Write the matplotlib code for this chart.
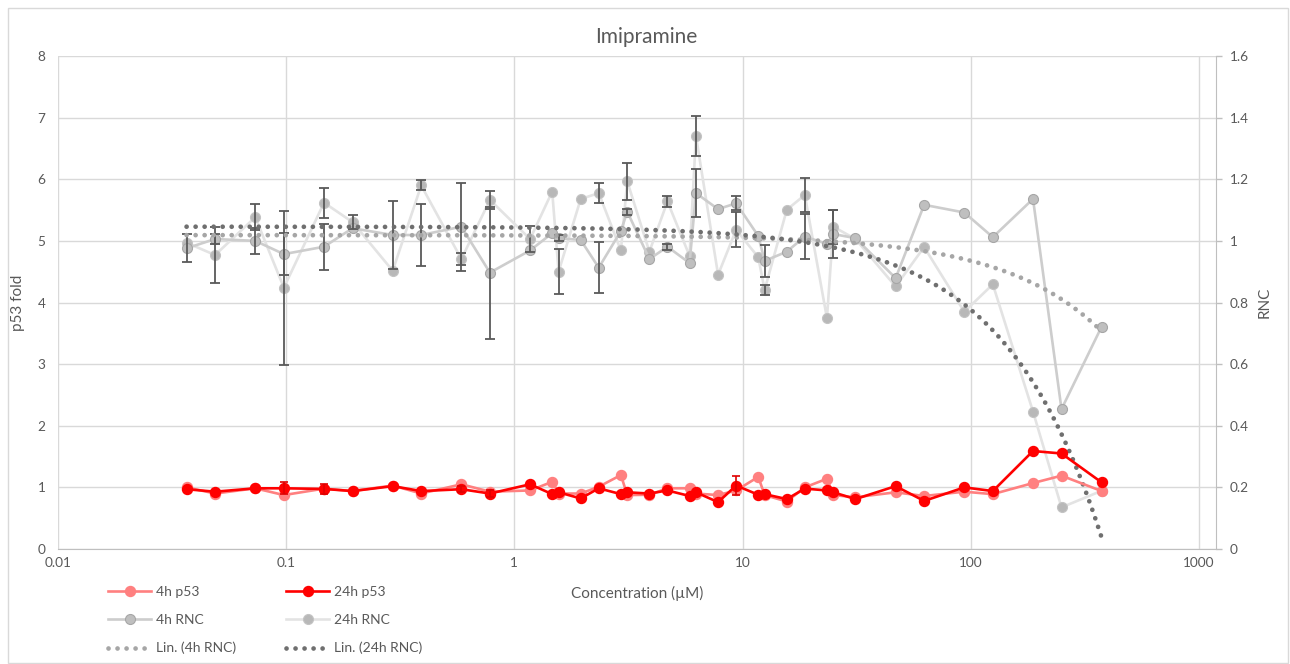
import numpy as np
import matplotlib
matplotlib.use("Agg")
import matplotlib.pyplot as plt
from matplotlib.ticker import NullLocator
from matplotlib.patches import Rectangle

# Concentrations (µM) - four interleaved two-fold dilution series
conc = [0.0366, 0.0488, 0.0732, 0.0977, 0.1465, 0.1953, 0.293, 0.3906, 0.586, 0.7813,
        1.172, 1.465, 1.563, 1.953, 2.344, 2.93, 3.125, 3.906, 4.688, 5.86,
        6.25, 7.813, 9.375, 11.72, 12.5, 15.63, 18.75, 23.44, 25.0, 31.25,
        46.88, 62.5, 93.75, 125.0, 187.5, 250.0, 375.0]

p53_4h = [1.00, 0.90, 0.985, 0.875, 0.98, 0.94, 1.03, 0.90, 1.05, 0.93,
          0.95, 1.09, 0.90, 0.90, 1.01, 1.20, 0.875, 0.88, 0.985, 0.985,
          0.90, 0.875, 0.95, 1.17, 0.875, 0.77, 1.00, 1.14, 0.875, 0.84,
          0.92, 0.86, 0.93, 0.89, 1.07, 1.19, 0.94]

p53_24h = [0.97, 0.93, 0.985, 0.985, 0.975, 0.94, 1.02, 0.94, 0.97, 0.90,
           1.05, 0.89, 0.92, 0.82, 0.985, 0.89, 0.92, 0.90, 0.95, 0.86,
           0.92, 0.76, 1.03, 0.88, 0.89, 0.81, 0.98, 0.95, 0.92, 0.81,
           1.02, 0.78, 1.00, 0.94, 1.59, 1.55, 1.08]

nan = np.nan
p53_24h_err = [nan, nan, nan, 0.10, 0.08, nan, nan, nan, 0.05, 0.05,
               nan, nan, nan, nan, nan, nan, nan, nan, nan, nan,
               nan, nan, 0.15, nan, nan, nan, nan, nan, nan, nan,
               nan, nan, nan, nan, nan, nan, nan]

rnc_4h = [0.976, 1.006, 1.000, 0.957, 0.981, 1.041, 1.019, 1.019, 1.046, 0.897,
          0.969, 1.025, 1.009, 1.003, 0.913, 1.032, 1.095, 0.941, 0.981, 0.928,
          1.155, 1.103, 1.122, 1.016, 0.935, 0.965, 1.014, 0.990, 1.022, 1.009,
          0.879, 1.117, 1.092, 1.012, 1.136, 0.454, 0.722]

rnc_24h = [0.994, 0.954, 1.077, 0.848, 1.124, 1.061, 0.903, 1.180, 0.941, 1.133,
           1.006, 1.160, 0.900, 1.136, 1.155, 0.969, 1.193, 0.965, 1.128, 0.951,
           1.341, 0.890, 1.036, 0.947, 0.841, 1.101, 1.149, 0.749, 1.046, 1.006,
           0.852, 0.980, 0.770, 0.859, 0.446, 0.135, 0.189]

rnc_4h_err = [0.045, 0.016, 0.041, 0.068, 0.075, nan, 0.110, 0.100, 0.143, 0.214,
              nan, nan, 0.010, nan, 0.083, nan, 0.010, nan, 0.010, nan,
              0.078, nan, 0.023, nan, 0.052, nan, 0.073, nan, 0.078, nan,
              nan, nan, nan, nan, nan, nan, nan]

rnc_24h_err = [nan, 0.091, 0.042, 0.250, 0.049, 0.023, nan, 0.016, 0.019, 0.029,
               0.042, nan, 0.073, nan, 0.032, nan, 0.060, nan, 0.019, nan,
               0.065, nan, 0.057, nan, 0.016, nan, 0.054, nan, 0.055, nan,
               nan, nan, nan, nan, nan, nan, nan]

x_ticks = [0.01, 0.1, 1, 10, 100, 1000]
x_tick_labels = ["0.01", "0.1", "1", "10", "100", "1000"]
p53_ticks = [0, 1, 2, 3, 4, 5, 6, 7, 8]
rnc_ticks = [0, 0.2, 0.4, 0.6, 0.8, 1, 1.2, 1.4, 1.6]
rnc_tick_labels = ["0", "0.2", "0.4", "0.6", "0.8", "1", "1.2", "1.4", "1.6"]

TEXT = "#595959"
GRID = "#d9d9d9"
AXIS = "#bfbfbf"
plt.rcParams['font.family'] = ['Lato', 'DejaVu Sans']

W, H = 1290, 664
fig = plt.figure(figsize=(W / 100, H / 100), dpi=100)
fig.patches.append(Rectangle((8 / W, 1 / H), 1280 / W, 655 / H, transform=fig.transFigure,
                             fill=False, edgecolor=GRID, linewidth=1.0))

left, right, bottom, top = 58 / W, 1216 / W, 1 - 549 / H, 1 - 56 / H
ax = fig.add_axes([left, bottom, right - left, top - bottom])
axr = ax.twinx()
ax.set_zorder(2)
axr.set_zorder(1)
ax.patch.set_visible(False)

conc_a = np.array(conc)
xmax = 10 ** 3.075
for a in (ax, axr):
    a.set_xscale('log')
    a.set_xlim(0.01, xmax)
    a.xaxis.set_minor_locator(NullLocator())

ax.set_ylim(0, 8)
axr.set_ylim(0, 1.6)

# grid lives on the lower (RNC) axes so data sits above it
axr.xaxis.set_visible(True)
axr.set_xticks(x_ticks)
axr.xaxis.set_minor_locator(NullLocator())
axr.tick_params(axis='x', which='both', bottom=False, top=False, labelbottom=False, labeltop=False)
axr.grid(True, axis='both', color=GRID, linewidth=1.0)
axr.set_axisbelow(True)

# RNC series (secondary axis)
axr.plot(conc_a, rnc_24h, color="#e3e3e3", lw=1.9, marker='o', ms=7.2,
         mfc="#b8b8b8", mec="#c4c4c4", mew=0.8, label="24h RNC", zorder=2)
axr.plot(conc_a, rnc_4h, color="#cdcdcd", lw=1.9, marker='o', ms=7.2,
         mfc="#bfbfbf", mec="#a6a6a6", mew=0.8, label="4h RNC", zorder=3)
axr.errorbar(conc_a, rnc_4h, yerr=rnc_4h_err, fmt='none', ecolor="#595959",
             elinewidth=1.3, capsize=3.5, capthick=1.3, zorder=4)
axr.errorbar(conc_a, rnc_24h, yerr=rnc_24h_err, fmt='none', ecolor="#595959",
             elinewidth=1.3, capsize=3.5, capthick=1.3, zorder=4)

# linear trendlines of the RNC data
xs = np.logspace(np.log10(conc_a.min()), np.log10(conc_a.max()), 400)
b4, a4 = np.polyfit(conc_a, rnc_4h, 1)
b24, a24 = np.polyfit(conc_a, rnc_24h, 1)
dots = (0, (0.01, 1.9))
tl4, = axr.plot(xs, a4 + b4 * xs, color="#a6a6a6", lw=3.4, linestyle=dots,
                dash_capstyle='round', label="Lin. (4h RNC)", zorder=5)
tl24, = axr.plot(xs, a24 + b24 * xs, color="#6f6f6f", lw=3.4, linestyle=dots,
                 dash_capstyle='round', label="Lin. (24h RNC)", zorder=5)

# p53 series (primary axis)
l4, = ax.plot(conc_a, p53_4h, color="#ff8080", lw=1.9, marker='o', ms=7.2,
              mfc="#ff8080", mec="#ff8080", label="4h p53", zorder=3)
l24, = ax.plot(conc_a, p53_24h, color="#ff0000", lw=1.9, marker='o', ms=7.2,
               mfc="#ff0000", mec="#ff0000", label="24h p53", zorder=4)
ax.errorbar(conc_a, p53_24h, yerr=p53_24h_err, fmt='none', ecolor="#e00000",
            elinewidth=1.2, capsize=3.2, capthick=1.2, zorder=4)

# axes styling
ax.set_xticks(x_ticks)
ax.set_xticklabels(x_tick_labels)
ax.xaxis.set_minor_locator(NullLocator())
ax.set_yticks(p53_ticks)
axr.set_yticks(rnc_ticks)
axr.set_yticklabels(rnc_tick_labels)
ax.tick_params(axis='x', length=0, pad=6, labelsize=9.8, labelcolor=TEXT)
ax.tick_params(axis='y', length=0, pad=9, labelsize=9.8, labelcolor=TEXT)
axr.tick_params(axis='y', length=4, width=1, color=AXIS, pad=6, labelsize=9.8, labelcolor=TEXT)

for a in (ax, axr):
    for s in a.spines.values():
        s.set_visible(False)
ax.spines['bottom'].set_visible(True)
ax.spines['bottom'].set_color(AXIS)
axr.spines['right'].set_visible(True)
axr.spines['right'].set_color(AXIS)

ax.set_ylabel("p53 fold", fontsize=11, color=TEXT)
ax.yaxis.set_label_coords((25 - 58) / 1158, 0.5)
axr.set_ylabel("RNC", fontsize=11, color=TEXT)
axr.yaxis.set_label_coords((1258 - 58) / 1158, 0.5)
ax.set_xlabel("Concentration (µM)", fontsize=11, color=TEXT)
ax.xaxis.set_label_coords((637 - 58) / 1158, -(586 - 549) / 493)

fig.text(646 / W, 1 - 37 / H, "Imipramine", ha='center', va='center',
         fontsize=15, color=TEXT)

handles = [l4, axr.lines[1], tl4, l24, axr.lines[0], tl24]
fig.legend(handles, [h.get_label() for h in handles], ncol=2, frameon=False,
           loc='upper left', bbox_to_anchor=(108 / W, 1 - 586 / H),
           borderpad=0, borderaxespad=0, handlelength=3.1, handletextpad=0.36,
           columnspacing=3.6, labelspacing=1.15, fontsize=10.0, labelcolor=TEXT,
           numpoints=1)

fig.savefig("out.png", dpi=100, facecolor="white")
